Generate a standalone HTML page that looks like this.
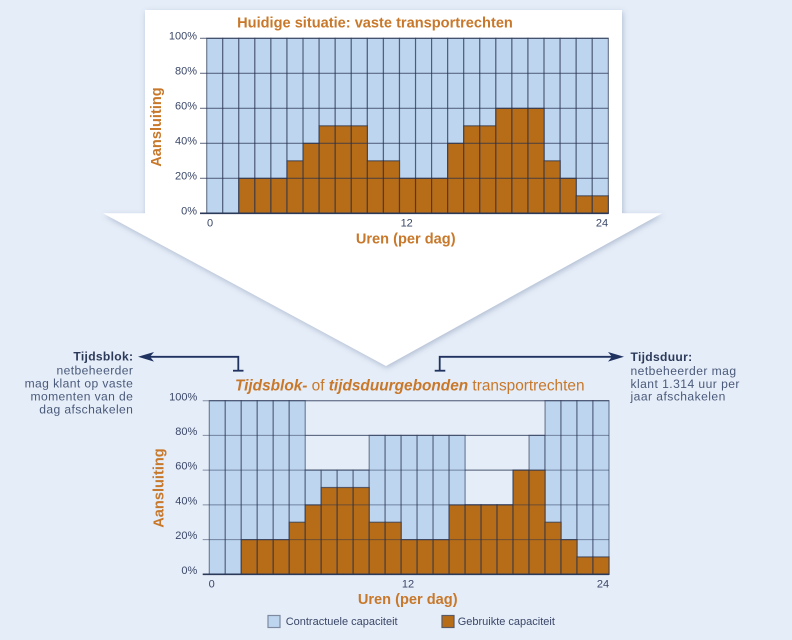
<!DOCTYPE html>
<html><head><meta charset="utf-8"><style>
html,body{margin:0;padding:0;background:#e5edf8;}
svg{display:block;font-family:"Liberation Sans",sans-serif;}
</style></head><body>
<svg width="792" height="640" viewBox="0 0 792 640" xmlns="http://www.w3.org/2000/svg">
<defs>
<filter id="sh" x="-10%" y="-10%" width="120%" height="120%">
<feDropShadow dx="1" dy="2" stdDeviation="3" flood-color="#6f80a0" flood-opacity="0.45"/>
</filter>
</defs>
<rect width="792" height="640" fill="#e5edf8"/>
<polygon points="145,10 622,10 622,213.3 662,213.3 386,366 103,213.3 145,213.3" fill="#ffffff" filter="url(#sh)"/>

<!-- TOP CHART -->
<text x="375" y="27.3" text-anchor="middle" font-size="14.6" font-weight="bold" fill="#c8782a">Huidige situatie: vaste transportrechten</text>
<g fill="#bdd5ef" stroke="#24304f" stroke-opacity="0.6" stroke-width="1.2">
<rect x="206.7" y="38.3" width="16.07" height="175"/>
<rect x="222.77" y="38.3" width="16.07" height="175"/>
<rect x="238.83" y="38.3" width="16.07" height="175"/>
<rect x="254.9" y="38.3" width="16.07" height="175"/>
<rect x="270.96" y="38.3" width="16.07" height="175"/>
<rect x="287.03" y="38.3" width="16.07" height="175"/>
<rect x="303.1" y="38.3" width="16.07" height="175"/>
<rect x="319.16" y="38.3" width="16.07" height="175"/>
<rect x="335.23" y="38.3" width="16.07" height="175"/>
<rect x="351.29" y="38.3" width="16.07" height="175"/>
<rect x="367.36" y="38.3" width="16.07" height="175"/>
<rect x="383.43" y="38.3" width="16.07" height="175"/>
<rect x="399.49" y="38.3" width="16.07" height="175"/>
<rect x="415.56" y="38.3" width="16.07" height="175"/>
<rect x="431.62" y="38.3" width="16.07" height="175"/>
<rect x="447.69" y="38.3" width="16.07" height="175"/>
<rect x="463.76" y="38.3" width="16.07" height="175"/>
<rect x="479.82" y="38.3" width="16.07" height="175"/>
<rect x="495.89" y="38.3" width="16.07" height="175"/>
<rect x="511.95" y="38.3" width="16.07" height="175"/>
<rect x="528.02" y="38.3" width="16.07" height="175"/>
<rect x="544.09" y="38.3" width="16.07" height="175"/>
<rect x="560.15" y="38.3" width="16.07" height="175"/>
<rect x="576.22" y="38.3" width="16.07" height="175"/>
<rect x="592.28" y="38.3" width="16.07" height="175"/>
</g>
<g fill="#b76c17" stroke="#24304f" stroke-opacity="0.65" stroke-width="1.2">
<rect x="238.83" y="178.3" width="16.07" height="35"/>
<rect x="254.9" y="178.3" width="16.07" height="35"/>
<rect x="270.96" y="178.3" width="16.07" height="35"/>
<rect x="287.03" y="160.8" width="16.07" height="52.5"/>
<rect x="303.1" y="143.3" width="16.07" height="70"/>
<rect x="319.16" y="125.8" width="16.07" height="87.5"/>
<rect x="335.23" y="125.8" width="16.07" height="87.5"/>
<rect x="351.29" y="125.8" width="16.07" height="87.5"/>
<rect x="367.36" y="160.8" width="16.07" height="52.5"/>
<rect x="383.43" y="160.8" width="16.07" height="52.5"/>
<rect x="399.49" y="178.3" width="16.07" height="35"/>
<rect x="415.56" y="178.3" width="16.07" height="35"/>
<rect x="431.62" y="178.3" width="16.07" height="35"/>
<rect x="447.69" y="143.3" width="16.07" height="70"/>
<rect x="463.76" y="125.8" width="16.07" height="87.5"/>
<rect x="479.82" y="125.8" width="16.07" height="87.5"/>
<rect x="495.89" y="108.3" width="16.07" height="105"/>
<rect x="511.95" y="108.3" width="16.07" height="105"/>
<rect x="528.02" y="108.3" width="16.07" height="105"/>
<rect x="544.09" y="160.8" width="16.07" height="52.5"/>
<rect x="560.15" y="178.3" width="16.07" height="35"/>
<rect x="576.22" y="195.8" width="16.07" height="17.5"/>
<rect x="592.28" y="195.8" width="16.07" height="17.5"/>
</g>
<g stroke="#24304f" stroke-opacity="0.65" stroke-width="1.1">
<line x1="200" y1="38.3" x2="608.4" y2="38.3"/>
<line x1="200" y1="73.3" x2="608.4" y2="73.3"/>
<line x1="200" y1="108.3" x2="608.4" y2="108.3"/>
<line x1="200" y1="143.3" x2="608.4" y2="143.3"/>
<line x1="200" y1="178.3" x2="608.4" y2="178.3"/>
</g>
<line x1="200" y1="213.3" x2="608.4" y2="213.3" stroke="#2c3a5a" stroke-width="1.6"/>
<g font-size="11" fill="#3a4768" text-anchor="end">
<text x="197" y="39.3">100%</text>
<text x="197" y="74.3">80%</text>
<text x="197" y="109.3">60%</text>
<text x="197" y="144.3">40%</text>
<text x="197" y="179.3">20%</text>
<text x="197" y="214.3">0%</text>
</g>
<g font-size="11" fill="#3a4768" text-anchor="middle">
<text x="210" y="226.3">0</text>
<text x="406.7" y="226.3">12</text>
<text x="602" y="226.3">24</text>
</g>
<text x="405.7" y="243.5" text-anchor="middle" font-size="14.6" font-weight="bold" fill="#c8782a">Uren (per dag)</text>
<text transform="translate(161,127) rotate(-90)" text-anchor="middle" font-size="14.6" font-weight="bold" fill="#c8782a">Aansluiting</text>

<!-- ANNOTATIONS -->
<g stroke="#1f3260" stroke-width="1.8" fill="none">
<path d="M238.3,370.7 V356.8 H148"/>
<line x1="233" y1="370.7" x2="243.5" y2="370.7"/>
<path d="M439.7,370.7 V356.8 H612"/>
<line x1="434.7" y1="370.7" x2="445.3" y2="370.7"/>
</g>
<polygon points="138,356.8 154,352 150,356.8 154,361.6" fill="#1f3260"/>
<polygon points="624,356.8 608,352 612,356.8 608,361.6" fill="#1f3260"/>
<g font-size="12.1" fill="#4a5a7a" text-anchor="end" letter-spacing="0.4">
<text x="133.3" y="360.7" font-weight="bold" fill="#2c3a5a" letter-spacing="0.3">Tijdsblok:</text>
<text x="133.3" y="374.6">netbeheerder</text>
<text x="133.3" y="387.6">mag klant op vaste</text>
<text x="133.3" y="400.7">momenten van de</text>
<text x="133.3" y="413.6">dag afschakelen</text>
</g>
<g font-size="12.1" fill="#4a5a7a" letter-spacing="0.45">
<text x="630.5" y="361" font-weight="bold" fill="#2c3a5a" letter-spacing="0.3">Tijdsduur:</text>
<text x="630.5" y="375">netbeheerder mag</text>
<text x="630.5" y="387.8">klant 1.314 uur per</text>
<text x="630.5" y="400.3">jaar afschakelen</text>
</g>

<!-- BOTTOM CHART -->
<text x="235" y="390.3" font-size="15.4" fill="#c8782a"><tspan font-weight="bold" font-style="italic">Tijdsblok-</tspan> of <tspan font-weight="bold" font-style="italic">tijdsduurgebonden</tspan> transportrechten</text>
<g stroke="#24304f" stroke-opacity="0.5" stroke-width="1">
<line x1="202.7" y1="400.7" x2="609" y2="400.7"/>
<line x1="202.7" y1="435.4" x2="609" y2="435.4"/>
<line x1="202.7" y1="470.1" x2="609" y2="470.1"/>
<line x1="202.7" y1="504.9" x2="609" y2="504.9"/>
<line x1="202.7" y1="539.6" x2="609" y2="539.6"/>
</g>
<g fill="#bdd5ef" stroke="#24304f" stroke-opacity="0.55" stroke-width="1.2">
<rect x="209.3" y="400.7" width="15.99" height="173.6"/>
<rect x="225.29" y="400.7" width="15.99" height="173.6"/>
<rect x="241.28" y="400.7" width="15.99" height="173.6"/>
<rect x="257.26" y="400.7" width="15.99" height="173.6"/>
<rect x="273.25" y="400.7" width="15.99" height="173.6"/>
<rect x="289.24" y="400.7" width="15.99" height="173.6"/>
<rect x="305.23" y="470.1" width="15.99" height="104.2"/>
<rect x="321.22" y="470.1" width="15.99" height="104.2"/>
<rect x="337.2" y="470.1" width="15.99" height="104.2"/>
<rect x="353.19" y="470.1" width="15.99" height="104.2"/>
<rect x="369.18" y="435.4" width="15.99" height="138.9"/>
<rect x="385.17" y="435.4" width="15.99" height="138.9"/>
<rect x="401.16" y="435.4" width="15.99" height="138.9"/>
<rect x="417.14" y="435.4" width="15.99" height="138.9"/>
<rect x="433.13" y="435.4" width="15.99" height="138.9"/>
<rect x="449.12" y="435.4" width="15.99" height="138.9"/>
<rect x="465.11" y="504.9" width="15.99" height="69.4"/>
<rect x="481.1" y="504.9" width="15.99" height="69.4"/>
<rect x="497.08" y="504.9" width="15.99" height="69.4"/>
<rect x="513.07" y="470.1" width="15.99" height="104.2"/>
<rect x="529.06" y="435.4" width="15.99" height="138.9"/>
<rect x="545.05" y="400.7" width="15.99" height="173.6"/>
<rect x="561.04" y="400.7" width="15.99" height="173.6"/>
<rect x="577.02" y="400.7" width="15.99" height="173.6"/>
<rect x="593.01" y="400.7" width="15.99" height="173.6"/>
</g>
<g fill="#b76c17" stroke="#24304f" stroke-opacity="0.65" stroke-width="1.2">
<rect x="241.28" y="539.6" width="15.99" height="34.7"/>
<rect x="257.26" y="539.6" width="15.99" height="34.7"/>
<rect x="273.25" y="539.6" width="15.99" height="34.7"/>
<rect x="289.24" y="522.2" width="15.99" height="52.1"/>
<rect x="305.23" y="504.9" width="15.99" height="69.4"/>
<rect x="321.22" y="487.5" width="15.99" height="86.8"/>
<rect x="337.2" y="487.5" width="15.99" height="86.8"/>
<rect x="353.19" y="487.5" width="15.99" height="86.8"/>
<rect x="369.18" y="522.2" width="15.99" height="52.1"/>
<rect x="385.17" y="522.2" width="15.99" height="52.1"/>
<rect x="401.16" y="539.6" width="15.99" height="34.7"/>
<rect x="417.14" y="539.6" width="15.99" height="34.7"/>
<rect x="433.13" y="539.6" width="15.99" height="34.7"/>
<rect x="449.12" y="504.9" width="15.99" height="69.4"/>
<rect x="465.11" y="504.9" width="15.99" height="69.4"/>
<rect x="481.1" y="504.9" width="15.99" height="69.4"/>
<rect x="497.08" y="504.9" width="15.99" height="69.4"/>
<rect x="513.07" y="470.1" width="15.99" height="104.2"/>
<rect x="529.06" y="470.1" width="15.99" height="104.2"/>
<rect x="545.05" y="522.2" width="15.99" height="52.1"/>
<rect x="561.04" y="539.6" width="15.99" height="34.7"/>
<rect x="577.02" y="556.9" width="15.99" height="17.4"/>
<rect x="593.01" y="556.9" width="15.99" height="17.4"/>
</g>
<g stroke="#24304f" stroke-opacity="0.5" stroke-width="1">
<line x1="209.3" y1="400.7" x2="609" y2="400.7"/>
<line x1="209.3" y1="435.4" x2="609" y2="435.4"/>
<line x1="209.3" y1="470.1" x2="609" y2="470.1"/>
<line x1="209.3" y1="504.9" x2="609" y2="504.9"/>
<line x1="209.3" y1="539.6" x2="609" y2="539.6"/>
</g>
<line x1="202.7" y1="574.3" x2="609" y2="574.3" stroke="#2c3a5a" stroke-width="1.6"/>
<g font-size="11" fill="#3a4768" text-anchor="end">
<text x="197.3" y="400.3">100%</text>
<text x="197.3" y="435">80%</text>
<text x="197.3" y="469.7">60%</text>
<text x="197.3" y="504.5">40%</text>
<text x="197.3" y="539.2">20%</text>
<text x="197.3" y="574">0%</text>
</g>
<g font-size="11" fill="#3a4768" text-anchor="middle">
<text x="211.7" y="587.3">0</text>
<text x="408" y="587.3">12</text>
<text x="603" y="587.3">24</text>
</g>
<text x="407.7" y="604" text-anchor="middle" font-size="14.6" font-weight="bold" fill="#c8782a">Uren (per dag)</text>
<text transform="translate(163.3,488) rotate(-90)" text-anchor="middle" font-size="14.6" font-weight="bold" fill="#c8782a">Aansluiting</text>

<!-- LEGEND -->
<rect x="268" y="615.5" width="12" height="12" fill="#bdd5ef" stroke="#7d8aa0" stroke-width="1.2"/>
<text x="285.7" y="625" font-size="11" fill="#3a4768">Contractuele capaciteit</text>
<rect x="442" y="615.5" width="12" height="12" fill="#b76c17" stroke="#5a5a66" stroke-width="1.2"/>
<text x="457.7" y="625" font-size="11" fill="#3a4768">Gebruikte capaciteit</text>
</svg>
</body></html>
